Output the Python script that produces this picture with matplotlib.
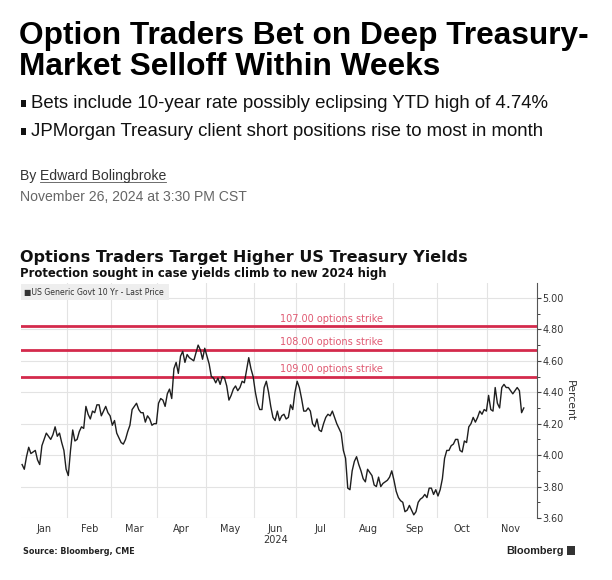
import matplotlib
matplotlib.use('Agg')
import matplotlib.pyplot as plt
import numpy as np
from matplotlib.patches import Rectangle
from matplotlib.lines import Line2D
from matplotlib.ticker import MultipleLocator, FormatStrFormatter
import matplotlib.transforms as mtransforms

# ---------------- data ----------------
months = ['Jan', 'Feb', 'Mar', 'Apr', 'May', 'Jun', 'Jul', 'Aug', 'Sep', 'Oct', 'Nov']
jan = [3.94, 3.91, 3.99, 4.05, 4.01, 4.02, 4.03, 3.97, 3.94, 4.06, 4.10, 4.14, 4.12, 4.10, 4.13,
       4.18, 4.12, 4.14, 4.08, 4.03, 3.91]
feb = [3.87, 4.03, 4.16, 4.09, 4.10, 4.15, 4.18, 4.17, 4.31, 4.26, 4.23, 4.28, 4.27, 4.32, 4.32,
       4.25, 4.28, 4.31, 4.27, 4.25]
mar = [4.19, 4.22, 4.14, 4.11, 4.08, 4.07, 4.10, 4.15, 4.19, 4.29, 4.31, 4.33, 4.29, 4.27, 4.27,
       4.21, 4.25, 4.23, 4.19, 4.20, 4.20]
apr = [4.33, 4.36, 4.35, 4.31, 4.39, 4.42, 4.36, 4.55, 4.59, 4.52, 4.63, 4.66, 4.59, 4.64, 4.62,
       4.61, 4.60, 4.65, 4.70, 4.67, 4.61, 4.68]
may = [4.63, 4.58, 4.50, 4.49, 4.46, 4.49, 4.45, 4.50, 4.49, 4.44, 4.35, 4.38, 4.42, 4.44, 4.41,
       4.43, 4.47, 4.46, 4.54, 4.62, 4.55, 4.50]
jun = [4.40, 4.33, 4.29, 4.29, 4.43, 4.47, 4.40, 4.31, 4.24, 4.22, 4.28, 4.22, 4.25, 4.26, 4.23,
       4.24, 4.32, 4.29, 4.40]
jul = [4.47, 4.43, 4.36, 4.28, 4.28, 4.30, 4.28, 4.20, 4.18, 4.23, 4.16, 4.15, 4.20, 4.24, 4.26,
       4.25, 4.28, 4.24, 4.20, 4.17, 4.14, 4.03]
aug = [3.98, 3.79, 3.78, 3.90, 3.96, 3.99, 3.94, 3.90, 3.85, 3.83, 3.91, 3.89, 3.87, 3.81, 3.80,
       3.86, 3.80, 3.82, 3.83, 3.84, 3.86, 3.90]
sep = [3.84, 3.77, 3.73, 3.71, 3.70, 3.64, 3.65, 3.68, 3.65, 3.62, 3.64, 3.70, 3.72, 3.73, 3.75,
       3.73, 3.79, 3.79, 3.75, 3.78]
oct_ = [3.74, 3.78, 3.85, 3.98, 4.03, 4.03, 4.06, 4.07, 4.10, 4.10, 4.03, 4.02, 4.09, 4.08, 4.18,
        4.20, 4.24, 4.21, 4.24, 4.28, 4.26, 4.29, 4.28]
nov = [4.38, 4.29, 4.28, 4.43, 4.33, 4.30, 4.43, 4.45, 4.43, 4.43, 4.41, 4.39, 4.41, 4.43, 4.41,
       4.27, 4.30]
month_series = [jan, feb, mar, apr, may, jun, jul, aug, sep, oct_, nov]
dec_days = 21  # trading days in December (for centring the last month label)

strikes = [4.82, 4.67, 4.50]
strike_labels = ['107.00 options strike', '108.00 options strike', '109.00 options strike']
yticks = [3.60, 3.80, 4.00, 4.20, 4.40, 4.60, 4.80, 5.00]

headline = ['Option Traders Bet on Deep Treasury-', 'Market Selloff Within Weeks']
bullets = ['Bets include 10-year rate possibly eclipsing YTD high of 4.74%',
           'JPMorgan Treasury client short positions rise to most in month']
author = 'Edward Bolingbroke'
dateline = 'November 26, 2024 at 3:30 PM CST'
chart_title = 'Options Traders Target Higher US Treasury Yields'
chart_subtitle = 'Protection sought in case yields climb to new 2024 high'
legend_label = 'US Generic Govt 10 Yr - Last Price'
source = 'Source: Bloomberg, CME'

# ---------------- figure ----------------
W, H = 612, 580
fig = plt.figure(figsize=(W / 100, H / 100), dpi=100)
fig.patch.set_facecolor('white')


def fx(px):
    return px / W


def fy(py):
    return 1 - py / H


values = np.concatenate([np.asarray(m, float) for m in month_series])
x = np.arange(len(values))
lengths = [len(m) for m in month_series]
starts = np.concatenate([[0], np.cumsum(lengths)[:-1]])
ends = starts + np.array(lengths[:-1] + [dec_days])
mids = (starts + ends) / 2 - 0.5

ax = fig.add_axes([fx(21), fy(518), fx(537) - fx(21), fy(283) - fy(518)])
ax.set_xlim(-0.5, 234)
ax.set_ylim(3.60, 5.095)

grid_c = '#e3e3e3'
for s in starts[1:]:
    ax.axvline(s - 0.5, color=grid_c, lw=0.8, zorder=0)
ax.set_yticks(yticks)
ax.yaxis.set_major_formatter(FormatStrFormatter('%.2f'))
ax.yaxis.set_minor_locator(MultipleLocator(0.1))
ax.grid(axis='y', color=grid_c, lw=0.8, zorder=0)
ax.set_axisbelow(True)

ax.plot(x, values, color='#1e1e1e', lw=1.0, zorder=3)

red = '#d42a4c'
for s, lab in zip(strikes, strike_labels):
    ax.axhline(s, color=red, lw=2.0, zorder=2)
    tr = mtransforms.offset_copy(ax.transData, fig=fig, x=0, y=2.5, units='dots')
    ax.text(140.5, s, lab, transform=tr, ha='center', va='bottom', fontsize=7.0,
            color='#e05a72', family='DejaVu Sans')

ax.yaxis.tick_right()
ax.yaxis.set_label_position('right')
ax.tick_params(axis='y', which='major', direction='out', length=3, width=0.8, colors='#444444',
               labelsize=6.9, pad=1, labelcolor='#333333')
ax.tick_params(axis='y', which='minor', direction='out', length=2, width=0.7, colors='#444444')
ax.set_xticks(mids)
ax.set_xticklabels(months)
ax.tick_params(axis='x', length=0, labelsize=7.0, labelcolor='#333333', pad=4)
ax.set_ylabel('Percent', rotation=270, fontsize=7.8, color='#333333', labelpad=8)
for sp in ['left', 'top', 'bottom']:
    ax.spines[sp].set_visible(False)
ax.spines['right'].set_color('#555555')
ax.spines['right'].set_linewidth(0.8)
ax.text(mids[5], -0.095, '2024', transform=ax.get_xaxis_transform(), ha='center', va='center',
        fontsize=7.0, color='#333333')

# legend box
fig.patches.append(Rectangle((fx(21), fy(300)), fx(169) - fx(21), fy(284) - fy(300),
                             transform=fig.transFigure, facecolor='#eeeeee', edgecolor='none'))
fig.text(fx(24), fy(292.5), '\u25A0' + legend_label, fontsize=5.6, color='#333333',
         va='center', ha='left', family='DejaVu Sans')

# chart titles
fig.text(fx(20), fy(262), chart_title, fontsize=11.5, fontweight='bold', color='#111111',
         va='baseline', family='DejaVu Sans')
fig.text(fx(20), fy(277), chart_subtitle, fontsize=8.4, fontweight='bold', color='#111111',
         va='baseline', family='DejaVu Sans')
fig.text(fx(23), fy(551.5), source, fontsize=5.8, fontweight='bold', color='#222222',
         va='center', family='DejaVu Sans')
fig.text(fx(506), fy(550.5), 'Bloomberg', fontsize=7.8, fontweight='bold', color='#222222',
         va='center', family='Liberation Sans')
fig.patches.append(Rectangle((fx(567), fy(555)), fx(575) - fx(567), fy(546) - fy(555),
                             transform=fig.transFigure, facecolor='#333333', edgecolor='none'))

# article header
hfont = ['Liberation Sans', 'DejaVu Sans']
fig.text(fx(19), fy(44), headline[0], fontsize=22.8, fontweight='bold', color='#000000',
         va='baseline', family=hfont)
fig.text(fx(19), fy(75), headline[1], fontsize=22.8, fontweight='bold', color='#000000',
         va='baseline', family=hfont)
for i, b in enumerate(bullets):
    yb = 108 + 28 * i
    fig.patches.append(Rectangle((fx(21), fy(yb - 1)), fx(5), fy(0) - fy(7),
                                 transform=fig.transFigure, facecolor='#111111', edgecolor='none'))
    fig.text(fx(30.5), fy(yb), b, fontsize=13.4, color='#111111', va='baseline', family=hfont)

t_by = fig.text(fx(20), fy(180), 'By ', fontsize=10.1, color='#333333', va='baseline', family=hfont)
fig.canvas.draw()
r = fig.canvas.get_renderer()
bb = t_by.get_window_extent(r)
t_auth = fig.text(bb.x1 / W, fy(180), author, fontsize=10.1, color='#333333', va='baseline',
                  family=hfont)
fig.canvas.draw()
ba = t_auth.get_window_extent(r)
fig.add_artist(Line2D([ba.x0 / W, ba.x1 / W], [fy(182), fy(182)], transform=fig.transFigure,
                      color='#555555', lw=0.6))
fig.text(fx(20), fy(201), dateline, fontsize=10.1, color='#666666', va='baseline', family=hfont)

fig.savefig('out.png', dpi=100)
